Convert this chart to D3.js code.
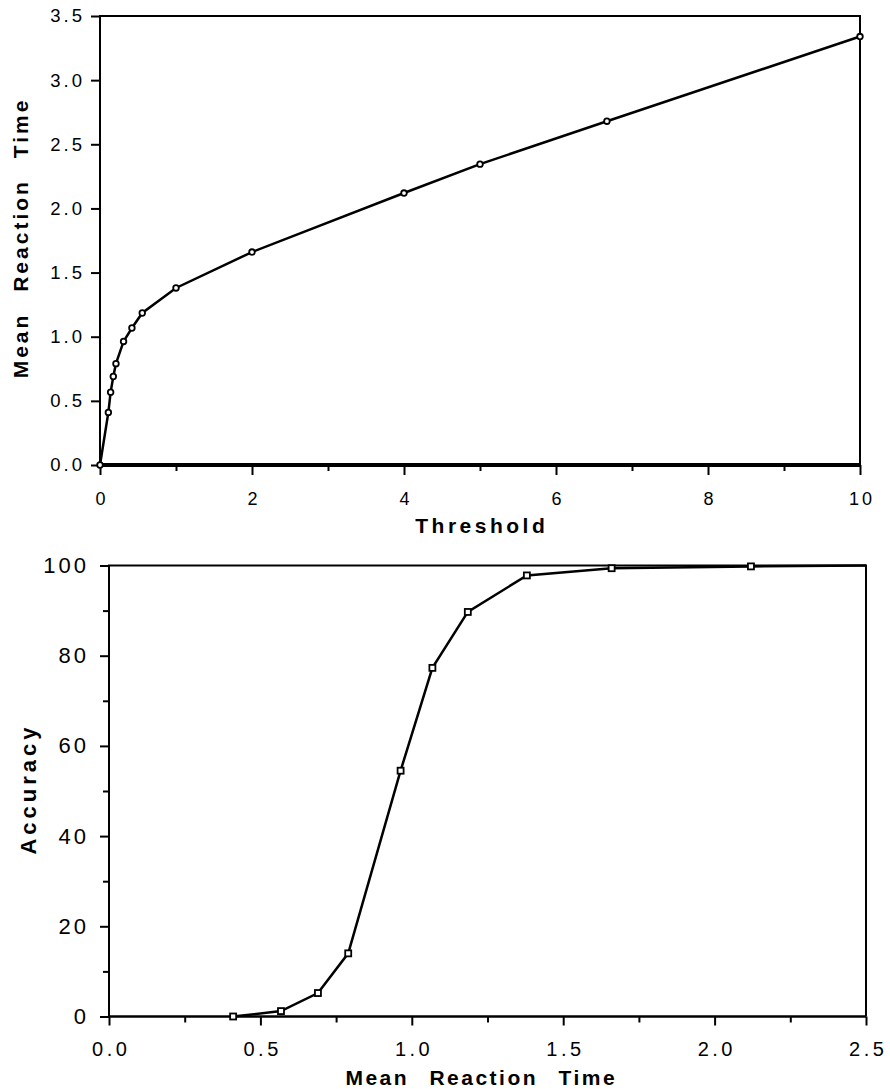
<!DOCTYPE html>
<html><head><meta charset="utf-8">
<script src="https://cdn.jsdelivr.net/npm/d3@7"></script>
<style>
body{margin:0;background:#fff;}
svg{display:block;font-family:"Liberation Sans",Arial,sans-serif;}
</style></head><body>
<svg id="c" width="890" height="1089"></svg>
<script>
// Top chart data: Threshold vs Mean Reaction Time
const threshold = [0, 0.11, 0.14, 0.175, 0.21, 0.31, 0.42, 0.556, 1, 2, 4, 5, 6.67, 10];
const meanRT    = [0, 0.41, 0.568, 0.69, 0.79, 0.963, 1.068, 1.185, 1.38, 1.66, 2.12, 2.345, 2.68, 3.34];
// Bottom chart data: Mean Reaction Time vs Accuracy
const mrt      = [0.41, 0.568, 0.69, 0.79, 0.963, 1.068, 1.185, 1.38, 1.66, 2.12];
const accuracy = [0, 1.2, 5.2, 14, 54.5, 77.3, 89.7, 97.8, 99.4, 99.8];
// Tick labels
const topXTicks = [0, 2, 4, 6, 8, 10];
const topXMinor = [1, 3, 5, 7, 9];
const topYTicks = [0, 0.5, 1.0, 1.5, 2.0, 2.5, 3.0, 3.5];
const botXTicks = [0, 0.5, 1.0, 1.5, 2.0, 2.5];
const botXMinor = [0.25, 0.75, 1.25, 1.75, 2.25];
const botYTicks = [0, 20, 40, 60, 80, 100];
const botYMinor = [10, 30, 50, 70, 90];

const svg = d3.select("#c");

function styleAxis(g, size, ls){
  g.select(".domain").remove();
  g.selectAll(".tick line").attr("stroke","#000").attr("stroke-width",2);
  g.selectAll(".tick text").attr("fill","#000").style("font-size",size+"px").style("letter-spacing",ls+"px");
}

// ---------- TOP CHART ----------
(function(){
  const L=100,R=860,T=16,B=465;
  const x=d3.scaleLinear().domain([0,10]).range([L,R]);
  const y=d3.scaleLinear().domain([0,3.5]).range([B,T]);
  const gx=svg.append("g").attr("transform",`translate(0,${B})`)
    .call(d3.axisBottom(x).tickValues(topXTicks).tickSize(10).tickPadding(17).tickFormat(d3.format("d")));
  styleAxis(gx,18,3);
  gx.selectAll(".tick text").attr("dx","1.5px");
  const gxm=svg.append("g").attr("transform",`translate(0,${B})`)
    .call(d3.axisBottom(x).tickValues(topXMinor).tickSize(6).tickFormat(""));
  styleAxis(gxm,18,0);
  const gy=svg.append("g").attr("transform",`translate(${L},0)`)
    .call(d3.axisLeft(y).tickValues(topYTicks).tickSize(9).tickPadding(6).tickFormat(d3.format(".1f")));
  styleAxis(gy,18.5,3);
  // frame
  svg.append("path").attr("d",`M${L},${B}V${T}H${R}V${B}`).attr("fill","none").attr("stroke","#000").attr("stroke-width",2);
  svg.append("line").attr("x1",L).attr("x2",R).attr("y1",B).attr("y2",B).attr("stroke","#000").attr("stroke-width",4);
  const pts=threshold.map((t,i)=>[t,meanRT[i]]);
  svg.append("path").datum(pts).attr("fill","none").attr("stroke","#000").attr("stroke-width",2.5)
    .attr("d",d3.line().x(d=>x(d[0])).y(d=>y(d[1])));
  svg.append("g").selectAll("circle").data(pts).join("circle")
    .attr("cx",d=>x(d[0])).attr("cy",d=>y(d[1])).attr("r",2.8)
    .attr("fill","#fff").attr("stroke","#000").attr("stroke-width",1.8);
  svg.append("text").attr("x",(L+R)/2+1.75).attr("y",533).attr("text-anchor","middle")
    .style("font-size","21px").style("font-weight","bold").style("letter-spacing","3.5px").text("Threshold");
  svg.append("text").attr("transform",`translate(28,${238}) rotate(-90)`).attr("text-anchor","middle")
    .style("font-size","21px").style("font-weight","bold").style("letter-spacing","3px").style("word-spacing","12px")
    .text("Mean Reaction Time");
})();

// ---------- BOTTOM CHART ----------
(function(){
  const L=109,R=866,T=565.5,B=1016.5;
  const x=d3.scaleLinear().domain([0,2.5]).range([L,R]);
  const y=d3.scaleLinear().domain([0,100]).range([B,T]);
  const gx=svg.append("g").attr("transform",`translate(0,${B})`)
    .call(d3.axisBottom(x).tickValues(botXTicks).tickSize(9).tickPadding(16).tickFormat(d3.format(".1f")));
  styleAxis(gx,20,3.5);
  gx.selectAll(".tick text").attr("dx","1.75px");
  const gxm=svg.append("g").attr("transform",`translate(0,${B})`)
    .call(d3.axisBottom(x).tickValues(botXMinor).tickSize(6).tickFormat(""));
  styleAxis(gxm,20,0);
  const gy=svg.append("g").attr("transform",`translate(${L},0)`)
    .call(d3.axisLeft(y).tickValues(botYTicks).tickSize(9).tickPadding(11).tickFormat(d3.format("d")));
  styleAxis(gy,22,3);
  const gym=svg.append("g").attr("transform",`translate(${L},0)`)
    .call(d3.axisLeft(y).tickValues(botYMinor).tickSize(6).tickFormat(""));
  styleAxis(gym,20,0);
  svg.append("path").attr("d",`M${L},${B}V${T}H${R}V${B}`).attr("fill","none").attr("stroke","#000").attr("stroke-width",2);
  svg.append("line").attr("x1",L).attr("x2",R).attr("y1",B).attr("y2",B).attr("stroke","#000").attr("stroke-width",2.5);
  const pts=mrt.map((m,i)=>[m,accuracy[i]]);
  svg.append("path").datum(pts.concat([[x.invert(R),100]])).attr("fill","none").attr("stroke","#000").attr("stroke-width",2.5)
    .attr("d",d3.line().x(d=>x(d[0])).y(d=>y(d[1])));
  svg.append("g").selectAll("rect").data(pts).join("rect")
    .attr("x",d=>x(d[0])-3).attr("y",d=>y(d[1])-3).attr("width",6).attr("height",6)
    .attr("fill","#fff").attr("stroke","#000").attr("stroke-width",1.8);
  svg.append("text").attr("x",480+1.25).attr("y",1085).attr("text-anchor","middle")
    .style("font-size","21px").style("font-weight","bold").style("letter-spacing","2.5px").style("word-spacing","12px")
    .text("Mean Reaction Time");
  svg.append("text").attr("transform",`translate(36,${789}) rotate(-90)`).attr("text-anchor","middle")
    .style("font-size","22px").style("font-weight","bold").style("letter-spacing","4px")
    .text("Accuracy");
})();
</script></body></html>
